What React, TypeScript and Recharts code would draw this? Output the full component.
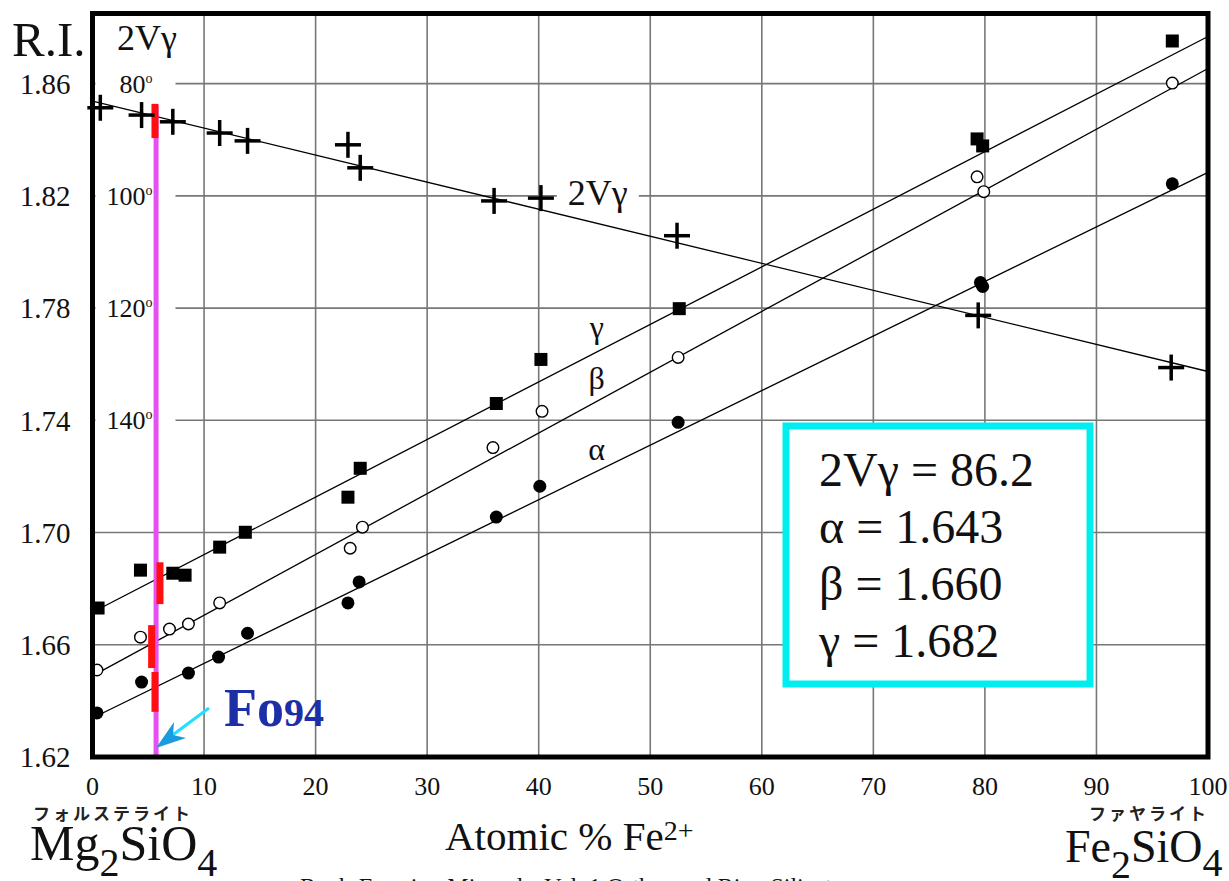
import React from 'react';
import { ComposedChart, Line, Scatter, XAxis, YAxis, CartesianGrid, ReferenceArea, ReferenceDot } from 'recharts';

const SERIF = '"Liberation Serif", "Times New Roman", serif';
const JP = '"Noto Sans CJK JP", sans-serif';

// atomic % Fe2+ (x) vs refractive index (y)
const gammaPts = [
  { x: 0.5, y: 1.6731 }, { x: 4.3, y: 1.6866 }, { x: 7.2, y: 1.6855 }, { x: 8.3, y: 1.6848 },
  { x: 11.4, y: 1.6948 }, { x: 13.7, y: 1.7001 }, { x: 22.9, y: 1.7126 }, { x: 24.0, y: 1.7229 },
  { x: 36.2, y: 1.746 }, { x: 40.2, y: 1.7617 }, { x: 52.6, y: 1.7798 }, { x: 79.3, y: 1.8403 },
  { x: 79.8, y: 1.8378 }, { x: 96.8, y: 1.8752 },
];
const betaPts = [
  { x: 0.4, y: 1.651 }, { x: 4.3, y: 1.6627 }, { x: 6.9, y: 1.6656 }, { x: 8.6, y: 1.6674 },
  { x: 11.4, y: 1.6749 }, { x: 23.1, y: 1.6944 }, { x: 24.2, y: 1.7019 }, { x: 35.9, y: 1.7303 },
  { x: 40.3, y: 1.7432 }, { x: 52.5, y: 1.7624 }, { x: 79.3, y: 1.8268 }, { x: 79.9, y: 1.8215 },
  { x: 96.8, y: 1.8602 },
];
const alphaPts = [
  { x: 0.4, y: 1.6357 }, { x: 4.4, y: 1.6467 }, { x: 8.6, y: 1.6499 }, { x: 11.3, y: 1.6556 },
  { x: 13.9, y: 1.6641 }, { x: 22.9, y: 1.6749 }, { x: 23.9, y: 1.6824 }, { x: 36.2, y: 1.7055 },
  { x: 40.1, y: 1.7165 }, { x: 52.5, y: 1.7393 }, { x: 79.6, y: 1.7891 }, { x: 79.8, y: 1.7877 },
  { x: 96.8, y: 1.8243 },
];
// 2Vγ in degrees
const twoVPts = [
  { x: 0.7, y: 84.3 }, { x: 4.4, y: 85.6 }, { x: 7.2, y: 86.8 }, { x: 11.4, y: 88.8 },
  { x: 13.9, y: 90.2 }, { x: 22.9, y: 90.9 }, { x: 24.0, y: 95.0 }, { x: 36.0, y: 100.9 },
  { x: 40.2, y: 100.4 }, { x: 52.4, y: 107.1 }, { x: 79.4, y: 121.3 }, { x: 96.7, y: 130.6 },
];

// fitted lines, read at both ends of the axis
const gammaFit = [{ x: 0, y: 1.6716 }, { x: 100, y: 1.8768 }];
const betaFit = [{ x: 0, y: 1.6489 }, { x: 100, y: 1.8654 }];
const alphaFit = [{ x: 0, y: 1.6339 }, { x: 100, y: 1.8284 }];
const twoVFit = [{ x: 0, y: 83.1 }, { x: 100, y: 131.3 }];

// Fo94 marks
const foLine = [{ x: 5.7, y: 1.62 }, { x: 5.7, y: 1.852 }];
const redTwoV = [{ x: 5.6, y: 83.6 }, { x: 5.6, y: 89.7 }];
const redGamma = [{ x: 6.05, y: 1.6745 }, { x: 6.05, y: 1.6894 }];
const redBeta = [{ x: 5.3, y: 1.6517 }, { x: 5.3, y: 1.667 }];
const redAlpha = [{ x: 5.6, y: 1.6361 }, { x: 5.6, y: 1.6503 }];

const xTicks = [0, 10, 20, 30, 40, 50, 60, 70, 80, 90, 100];
const riTicks = [1.62, 1.66, 1.7, 1.74, 1.78, 1.82, 1.86];
const angleTicks = [80, 100, 120, 140];
const resultLines = ['2Vγ = 86.2', 'α = 1.643', 'β = 1.660', 'γ = 1.682'];

const Square = (p: any) => <rect x={p.cx - 6.5} y={p.cy - 6.5} width={13} height={13} fill="#000" />;
const OpenDot = (p: any) => <circle cx={p.cx} cy={p.cy} r={5.8} fill="#fff" stroke="#000" strokeWidth={1.4} />;
const FullDot = (p: any) => <circle cx={p.cx} cy={p.cy} r={6.5} fill="#000" />;
const Cross = (p: any) => (
  <g stroke="#000" strokeWidth={3.5}>
    <line x1={p.cx - 13} x2={p.cx + 13} y1={p.cy} y2={p.cy} />
    <line x1={p.cx} x2={p.cx} y1={p.cy - 13} y2={p.cy + 13} />
  </g>
);

const angleLabel = (deg: number) => (p: any) => (
  <g>
    <rect x={p.cx + 3} y={p.cy - 13} width={80} height={26} fill="#fff" />
    <text x={p.cx + 60} y={p.cy + 9} textAnchor="end" fontFamily={SERIF} fontSize={26} fill="#111">
      {deg}
      <tspan dy={-10} fontSize={14}>o</tspan>
    </text>
  </g>
);

const greekLabel = (s: string) => (p: any) => (
  <text x={p.cx} y={p.cy} textAnchor="middle" fontFamily={SERIF} fontSize={32} fill="#111">{s}</text>
);

const twoVLabel = (p: any) => (
  <g>
    <rect x={p.cx - 41} y={p.cy - 15} width={82} height={30} fill="#fff" />
    <text x={p.cx} y={p.cy + 9} textAnchor="middle" fontFamily={SERIF} fontSize={36} fill="#111">2Vγ</text>
  </g>
);

function Overlay() {
  return (
    <svg width={1229} height={881} style={{ position: 'absolute', left: 0, top: 0, pointerEvents: 'none' }}>
      <text x={12} y={56} fontFamily={SERIF} fontSize={49} fill="#111">R.I.</text>
      <text x={117} y={50} fontFamily={SERIF} fontSize={36} fill="#111">2Vγ</text>

      <text x={224} y={726} fontFamily={SERIF} fontWeight="bold" fontSize={54} fill="#1c2fa6">
        Fo<tspan fontSize={40}>94</tspan>
      </text>
      <line x1={209} y1={708} x2={170} y2={737} stroke="#20e0ff" strokeWidth={3} />
      <polygon points="156,748 174,722 173,735 186,738" fill="#1a9be0" />

      <rect x={786} y={426} width={304} height={258} fill="#fff" stroke="#00eef0" strokeWidth={7} />
      {resultLines.map((s, i) => (
        <text key={s} x={819} y={486 + i * 57} fontFamily={SERIF} fontSize={48} fill="#111">{s}</text>
      ))}

      <text x={445} y={850} fontFamily={SERIF} fontSize={41} fill="#111">
        Atomic % Fe<tspan dy={-10} fontSize={28}>2+</tspan>
      </text>

      <text x={33} y={820} fontFamily={JP} fontWeight="bold" fontSize={17} letterSpacing={3} fill="#222">フォルステライト</text>
      <text x={30} y={860} fontFamily={SERIF} fontSize={50} fill="#111">
        Mg<tspan dy={16} fontSize={40}>2</tspan><tspan dy={-16}>SiO</tspan><tspan dy={16} fontSize={40}>4</tspan>
      </text>

      <text x={1089} y={820} fontFamily={JP} fontWeight="bold" fontSize={17} letterSpacing={3} fill="#222">ファヤライト</text>
      <text x={1065} y={862} fontFamily={SERIF} fontSize={46} fill="#111">
        Fe<tspan dy={16} fontSize={40}>2</tspan><tspan dy={-16}>SiO</tspan><tspan dy={14} fontSize={40}>4</tspan>
      </text>

      <text x={300} y={894} fontFamily={SERIF} fontSize={24} fill="#111">
        Rock-Forming Minerals, Vol. 1 Ortho- and Ring Silicates
      </text>
    </svg>
  );
}

export default function App() {
  return (
    <div style={{ position: 'absolute', left: 0, top: 0, width: 1229, height: 881, overflow: 'hidden', background: '#fff' }}>
      <ComposedChart width={1229} height={881} margin={{ top: 13.5, right: 21, bottom: 94, left: 32.5 }}>
        <CartesianGrid yAxisId="ri" stroke="#777" strokeWidth={1.6} />
        <XAxis
          type="number"
          dataKey="x"
          domain={[0, 100]}
          ticks={xTicks}
          axisLine={false}
          tickLine={false}
          tickMargin={13.5}
          tick={{ fontFamily: SERIF, fontSize: 26, fill: '#111' }}
        />
        <YAxis
          yAxisId="ri"
          type="number"
          dataKey="y"
          domain={[1.62, 1.885]}
          ticks={riTicks}
          width={60}
          axisLine={false}
          tickLine={false}
          tickMargin={16}
          tickFormatter={(v: number) => v.toFixed(2)}
          tick={{ fontFamily: SERIF, fontSize: 29, fill: '#111' }}
        />
        <YAxis yAxisId="v" type="number" dataKey="y" domain={[67.5, 200]} reversed hide />

        {angleTicks.map((d) => (
          <ReferenceDot key={d} yAxisId="v" x={0} y={d} r={1} shape={angleLabel(d)} ifOverflow="visible" zIndex={-50} />
        ))}
        <ReferenceDot yAxisId="v" x={45.3} y={100} r={1} shape={twoVLabel} ifOverflow="visible" zIndex={-50} />
        <ReferenceDot yAxisId="ri" x={45.2} y={1.7695} r={1} shape={greekLabel('γ')} ifOverflow="visible" />
        <ReferenceDot yAxisId="ri" x={45.2} y={1.751} r={1} shape={greekLabel('β')} ifOverflow="visible" />
        <ReferenceDot yAxisId="ri" x={45.2} y={1.726} r={1} shape={greekLabel('α')} ifOverflow="visible" />

        <Line yAxisId="ri" data={gammaFit} dataKey="y" stroke="#000" strokeWidth={1.3} dot={false} isAnimationActive={false} />
        <Line yAxisId="ri" data={betaFit} dataKey="y" stroke="#000" strokeWidth={1.3} dot={false} isAnimationActive={false} />
        <Line yAxisId="ri" data={alphaFit} dataKey="y" stroke="#000" strokeWidth={1.3} dot={false} isAnimationActive={false} />
        <Line yAxisId="v" data={twoVFit} dataKey="y" stroke="#000" strokeWidth={1.3} dot={false} isAnimationActive={false} />

        <Line yAxisId="ri" data={foLine} dataKey="y" stroke="#e650f0" strokeWidth={5} dot={false} isAnimationActive={false} />
        <Line yAxisId="v" data={redTwoV} dataKey="y" stroke="#ff1010" strokeWidth={7} dot={false} isAnimationActive={false} />
        <Line yAxisId="ri" data={redGamma} dataKey="y" stroke="#ff1010" strokeWidth={7} dot={false} isAnimationActive={false} />
        <Line yAxisId="ri" data={redBeta} dataKey="y" stroke="#ff1010" strokeWidth={7} dot={false} isAnimationActive={false} />
        <Line yAxisId="ri" data={redAlpha} dataKey="y" stroke="#ff1010" strokeWidth={7} dot={false} isAnimationActive={false} />

        <Scatter yAxisId="ri" data={gammaPts} shape={Square} isAnimationActive={false} />
        <Scatter yAxisId="ri" data={betaPts} shape={OpenDot} isAnimationActive={false} />
        <Scatter yAxisId="ri" data={alphaPts} shape={FullDot} isAnimationActive={false} />
        <Scatter yAxisId="v" data={twoVPts} shape={Cross} isAnimationActive={false} />

        <ReferenceArea yAxisId="ri" x1={0} x2={100} y1={1.62} y2={1.885} fill="none" stroke="#000" strokeWidth={5} ifOverflow="visible" zIndex={700} />
      </ComposedChart>
      <Overlay />
    </div>
  );
}
